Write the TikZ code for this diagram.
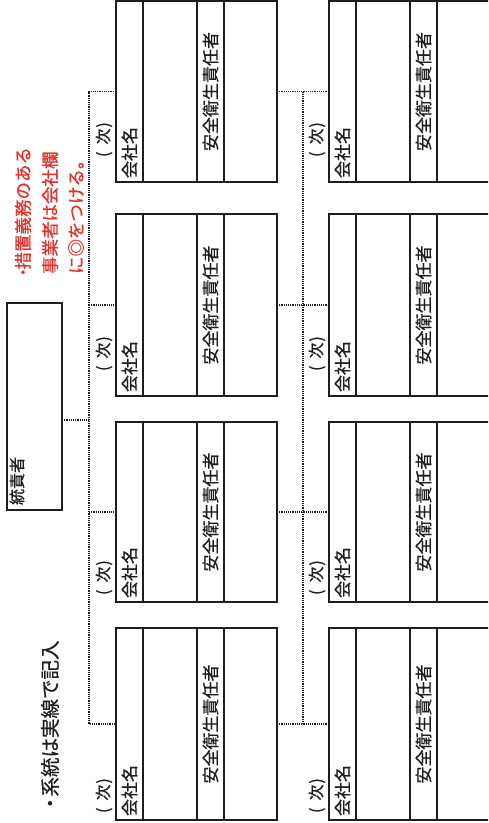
\documentclass[tikz,border=0pt]{standalone}
\usepackage{fontspec}
\newfontfamily\jp[FakeBold=0.6]{Noto Sans CJK JP}
\definecolor{ink}{RGB}{30,30,30}
\definecolor{notered}{RGB}{228,48,40}
\begin{document}
\begin{tikzpicture}[x=1pt,y=-1pt,
  frame/.style={draw=ink, line width=1.4pt, rectangle, inner sep=0pt, outer sep=0pt},
  strip/.style={draw=ink, line width=1.4pt},
  conn/.style={draw=ink, line width=1.3pt, dash pattern=on 1.2pt off 1pt},
  vtext/.style={rotate=90, inner sep=0pt, outer sep=0pt, text=ink},
  lbl/.style={vtext, anchor=west},
  f16/.style={font=\jp\fontsize{16}{16}\selectfont},
  f17/.style={font=\jp\fontsize{17}{17}\selectfont},
  fnote/.style={font=\jp\fontsize{17.5}{17.5}\selectfont},
  fbig/.style={font=\jp\fontsize{19.5}{19.5}\selectfont}]
\useasboundingbox (0,0) rectangle (488,823);
\clip (0,0) rectangle (488,823);
\fill[white] (0,0) rectangle (488,823);

% top box
\node[frame, minimum width=55pt, minimum height=207pt] (T) at (34.5,406.5) {};
\node[lbl, f16] (Tt) at ([xshift=10pt, yshift=5pt]T.south west) {統責者};

% company boxes
\foreach \r/\cy/\h/\off in {1/91.5/181/25, 2/305/182/25, 3/512/180/7, 4/724/192/7}{
  \node[frame, minimum width=161pt, minimum height=\h pt] (L\r) at (196.5,\cy) {};
  \node[frame, minimum width=162pt, minimum height=\h pt] (R\r) at (410,\cy) {};
  \foreach \c in {L,R}{
    \draw[strip] ([xshift=27pt]\c\r.north west) -- ([xshift=27pt]\c\r.south west);
    \draw[strip] ([xshift=81pt]\c\r.north west) -- ([xshift=81pt]\c\r.south west);
    \draw[strip] ([xshift=108pt]\c\r.north west) -- ([xshift=108pt]\c\r.south west);
    \node[lbl, f17] (\c n\r) at ([xshift=13.5pt, yshift=4pt]\c\r.south west) {会社名};
    \node[vtext, f17, anchor=center] (\c a\r) at ([xshift=94.5pt]\c\r.west) {安全衛生責任者};
    \node[lbl, f16] (\c j\r) at ([xshift=-12pt, yshift=\off pt]\c\r.south west) {(\kern7pt次\kern1pt)};
  }
}

% dotted connectors
\coordinate (lbx) at (89,0);
\coordinate (rbx) at (303,0);
\coordinate (tj) at (0,420);
\draw[conn] (T.east |- tj) -- (lbx |- tj);
\draw[conn] (L1.west) -- (lbx |- L1.west) -- (lbx |- L4.west) -- (L4.west);
\draw[conn] (lbx |- L2.west) -- (L2.west);
\draw[conn] (lbx |- L3.west) -- (L3.west);
\draw[conn] (rbx |- L1.east) -- (rbx |- L4.east);
\foreach \r in {1,2,3,4}{
  \draw[conn] (L\r.east) -- (R\r.west);
}

% notes
\node[lbl, fnote, text=notered] (r1) at (23,281) {・\kern-6pt措置義務のある};
\node[lbl, fnote, text=notered] (r2) at (50,274) {事業者は会社欄};
\node[lbl, fnote, text=notered] (r3) at (76,274) {に◎をつける。};
\node[lbl, fbig] (note) at (50,813) {・\kern-3pt系統は実線で記入};
\end{tikzpicture}
\end{document}
